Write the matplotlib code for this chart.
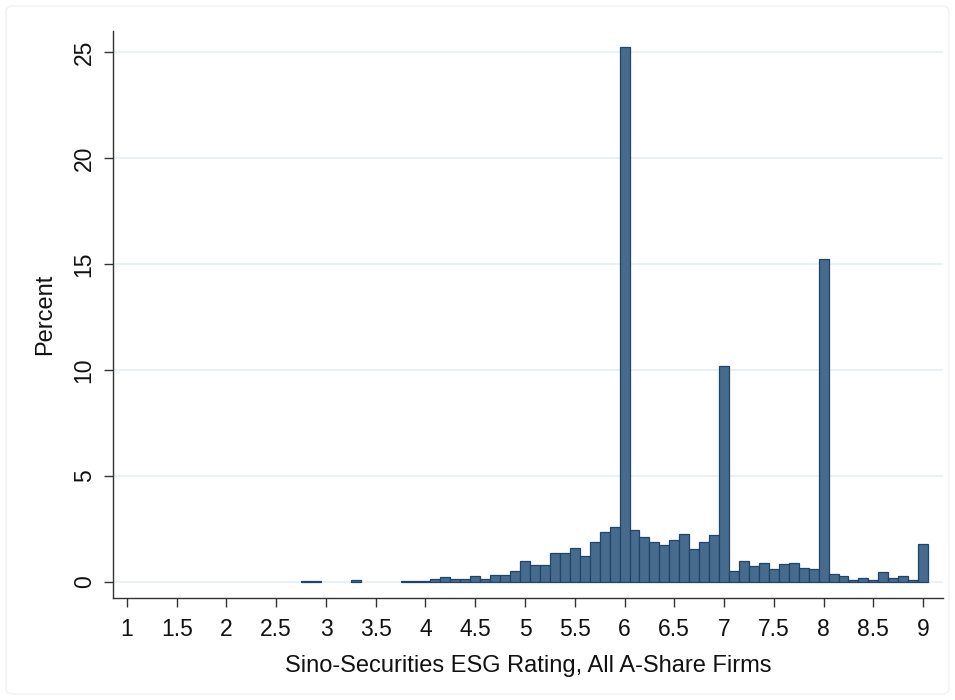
import matplotlib
matplotlib.use("Agg")
import matplotlib.pyplot as plt
from matplotlib.patches import FancyBboxPatch

plt.rcParams['font.family'] = ['Liberation Sans', 'DejaVu Sans']

# Bin centers (ESG rating) and percent of firms
bin_centers = [2.8, 2.9, 3.3, 3.8, 3.9, 4.0, 4.1, 4.2, 4.3, 4.4, 4.5, 4.6, 4.7, 4.8, 4.9,
               5.0, 5.1, 5.2, 5.3, 5.4, 5.5, 5.6, 5.7, 5.8, 5.9,
               6.0, 6.1, 6.2, 6.3, 6.4, 6.5, 6.6, 6.7, 6.8, 6.9,
               7.0, 7.1, 7.2, 7.3, 7.4, 7.5, 7.6, 7.7, 7.8, 7.9,
               8.0, 8.1, 8.2, 8.3, 8.4, 8.5, 8.6, 8.7, 8.8, 8.9, 9.0]
percent = [0.03, 0.05, 0.10, 0.06, 0.06, 0.03, 0.14, 0.24, 0.16, 0.16, 0.27, 0.13, 0.35, 0.35, 0.54,
           0.99, 0.82, 0.82, 1.37, 1.37, 1.60, 1.25, 1.90, 2.36, 2.61,
           25.25, 2.45, 2.11, 1.87, 1.76, 1.98, 2.27, 1.54, 1.87, 2.22,
           10.20, 0.52, 0.98, 0.74, 0.88, 0.61, 0.83, 0.88, 0.66, 0.63,
           15.25, 0.39, 0.27, 0.08, 0.20, 0.09, 0.47, 0.20, 0.28, 0.11, 1.80]
bin_width = 0.1

x_ticks = [1, 1.5, 2, 2.5, 3, 3.5, 4, 4.5, 5, 5.5, 6, 6.5, 7, 7.5, 8, 8.5, 9]
x_tick_labels = ["1", "1.5", "2", "2.5", "3", "3.5", "4", "4.5", "5", "5.5", "6", "6.5",
                 "7", "7.5", "8", "8.5", "9"]
y_ticks = [0, 5, 10, 15, 20, 25]

W, H = 955, 700
fig = plt.figure(figsize=(W / 100, H / 100), dpi=100)
fig.patch.set_facecolor('white')

# faint outer border (graph region)
border = FancyBboxPatch((6 / W, 6 / H), (W - 12) / W, (H - 12) / H,
                        boxstyle="round,pad=0,rounding_size=0.008",
                        transform=fig.transFigure, fill=False,
                        edgecolor='#f0f1f3', linewidth=1.0)
fig.patches.append(border)

left, right, top, bottom = 113, 943, 31, 598
ax = fig.add_axes([left / W, 1 - bottom / H, (right - left) / W, (bottom - top) / H])

ax.bar(bin_centers, percent, width=bin_width, align='center',
       color='#476b8c', edgecolor='#1f4468', linewidth=0.9, zorder=3)

ax.set_xlim(0.86, 9.2)
ax.set_ylim(-0.755, 26.0)

ax.set_yticks(y_ticks)
ax.set_yticklabels([str(v) for v in y_ticks], rotation=90, va='center', fontsize=16.5)
ax.set_xticks(x_ticks)
ax.set_xticklabels(x_tick_labels, fontsize=16.5)

ax.grid(axis='y', color='#e6eff2', linewidth=1.2, zorder=0)
ax.set_axisbelow(True)

for s in ['top', 'right']:
    ax.spines[s].set_visible(False)
for s in ['left', 'bottom']:
    ax.spines[s].set_color('#333333')
    ax.spines[s].set_linewidth(1.0)

ax.tick_params(axis='both', direction='out', length=6.5, width=1.0, color='#333333',
               labelcolor='#111111')
ax.tick_params(axis='x', pad=8)
ax.tick_params(axis='y', pad=6)

ax.set_xlabel("Sino-Securities ESG Rating, All A-Share Firms", fontsize=17, labelpad=10,
              color='#111111')
ax.set_ylabel("Percent", fontsize=17, labelpad=12, color='#111111')

fig.savefig("out.png", dpi=100, facecolor='white')
